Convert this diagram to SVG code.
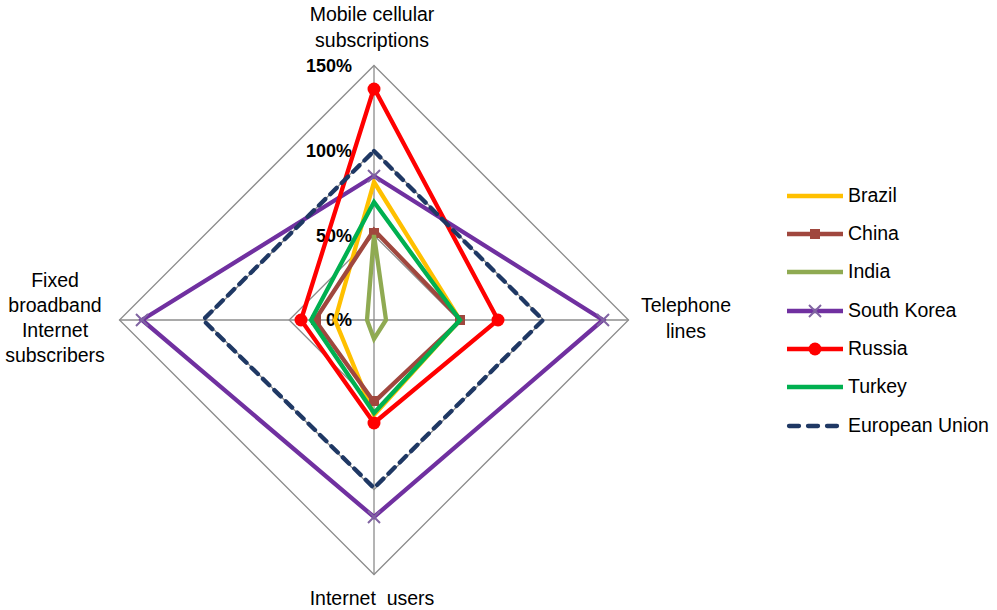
<svg xmlns="http://www.w3.org/2000/svg" width="997" height="610" viewBox="0 0 997 610">
<style>
text{font-family:"Liberation Sans",Arial,sans-serif;font-size:19.5px;fill:#000}
.ax{font-weight:bold;font-size:18px;text-anchor:end}
.c{text-anchor:middle}
.grid{fill:none;stroke:#8c8c8c;stroke-width:1.3}
.s{fill:none;stroke-width:4.3;stroke-linejoin:miter;stroke-linecap:butt}
.br{stroke:#FFC000}.ch{stroke:#A0473E}.in{stroke:#8FAA52}.sk{stroke:#7030A0}.ru{stroke:#FF0000}.tu{stroke:#00B050}
.eu{stroke:#1F3864;stroke-dasharray:9 7;stroke-linecap:round}
.skx{stroke:#8064A2;stroke-width:2;fill:none}
</style>
<defs>
<rect id="sq" x="-5" y="-5" width="10" height="10" fill="#A0473E"/>
<circle id="dot" r="6.5" fill="#FF0000"/>
<path id="xm" d="M-6,-6L6,6M-6,6L6,-6" class="skx"/>
</defs>
<rect width="997" height="610" fill="#fff"/>
<g id="grid">
<polygon class="grid" points="374,65.5 628.5,320 374,574.5 119.5,320"/>
<polygon class="grid" points="374,150.3 543.7,320 374,489.7 204.3,320"/>
<polygon class="grid" points="374,235.2 458.8,320 374,404.8 289.2,320"/>
<line class="grid" x1="374" y1="65.5" x2="374" y2="574.5"/>
<line class="grid" x1="119.5" y1="320" x2="628.5" y2="320"/>
</g>
<g id="axis-labels">
<text class="ax" x="352" y="72">150%</text>
<text class="ax" x="352" y="157">100%</text>
<text class="ax" x="352" y="242">50%</text>
<text class="ax" x="352" y="326">0%</text>
<text class="c" x="372" y="21">Mobile cellular</text>
<text class="c" x="372" y="47">subscriptions</text>
<text class="c" x="686" y="312">Telephone</text>
<text class="c" x="686" y="338">lines</text>
<text class="c" x="372" y="605" xml:space="preserve">Internet  users</text>
<text class="c" x="55" y="287">Fixed</text>
<text class="c" x="55" y="312">broadband</text>
<text class="c" x="55" y="337">Internet</text>
<text class="c" x="55" y="362">subscribers</text>
</g>
<g id="connectors">
<polygon id="brazil" class="s br" points="374,182 460,320 374,415 335,320"/>
<g id="china">
<polygon class="s ch" points="374,230 461,320 374,402 315,320"/>
<use href="#sq" x="374" y="233"/><use href="#sq" x="460" y="320"/><use href="#sq" x="374" y="401"/><use href="#sq" x="316" y="320"/>
</g>
<polygon id="india" class="s in" points="374,235 386,320 374,339 367,320"/>
<g id="southkorea">
<polygon class="s sk" points="374,176 603,320 374,517 142,320"/>
<use href="#xm" x="374" y="176"/><use href="#xm" x="603" y="320"/><use href="#xm" x="374" y="517"/><use href="#xm" x="142" y="320"/>
</g>
<g id="russia">
<polygon class="s ru" points="374,88 498,320 374,423 301,320"/>
<use href="#dot" x="374" y="89"/><use href="#dot" x="498" y="320"/><use href="#dot" x="374" y="423"/><use href="#dot" x="301" y="320"/>
</g>
<polygon id="turkey" class="s tu" points="374,202 460,320 374,413 311,320"/>
<polygon id="eu" class="s eu" points="374,151 543,320 374,488 203,320"/>
</g>
<g id="legend">
<g id="lg-brazil"><line class="s br" x1="787" y1="196" x2="843" y2="196"/><text x="848" y="202">Brazil</text></g>
<g id="lg-china"><line class="s ch" x1="787" y1="234" x2="843" y2="234"/><use href="#sq" x="815" y="234"/><text x="848" y="240">China</text></g>
<g id="lg-india"><line class="s in" x1="787" y1="272" x2="843" y2="272"/><text x="848" y="278">India</text></g>
<g id="lg-sk"><line class="s sk" x1="787" y1="311" x2="843" y2="311"/><use href="#xm" x="815" y="311"/><text x="848" y="317">South Korea</text></g>
<g id="lg-ru"><line class="s ru" x1="787" y1="349" x2="843" y2="349"/><use href="#dot" x="815" y="349"/><text x="848" y="355">Russia</text></g>
<g id="lg-tu"><line class="s tu" x1="787" y1="387" x2="843" y2="387"/><text x="848" y="393">Turkey</text></g>
<g id="lg-eu"><line class="s eu" x1="789" y1="426" x2="843" y2="426" style="stroke-dasharray:10 9"/><text x="848" y="432">European Union</text></g>
</g>
</svg>
